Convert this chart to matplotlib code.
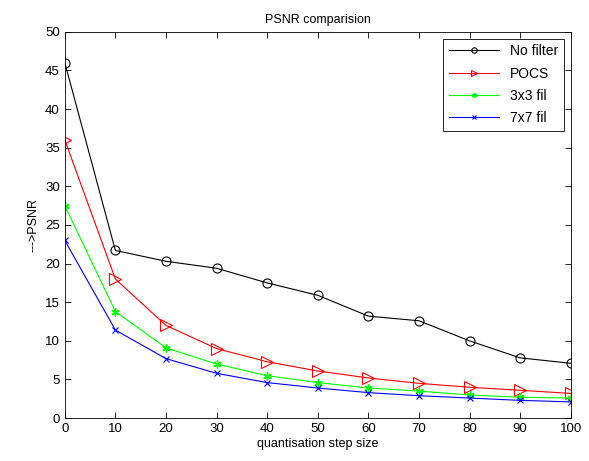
import numpy as np
import matplotlib.pyplot as plt

plt.rcParams['font.family'] = 'Liberation Sans'
plt.rcParams['font.size'] = 9

step = [0, 10, 20, 30, 40, 50, 60, 70, 80, 90, 100]
no_filter = [46, 21.7, 20.3, 19.4, 17.5, 15.9, 13.2, 12.6, 10.0, 7.8, 7.1]
pocs = [36, 18.0, 12.0, 9.0, 7.3, 6.1, 5.2, 4.5, 4.0, 3.6, 3.2]
fil3 = [27.5, 13.8, 9.1, 7.0, 5.5, 4.6, 3.9, 3.5, 3.0, 2.7, 2.6]
fil7 = [23, 11.4, 7.7, 5.8, 4.6, 3.9, 3.3, 2.9, 2.6, 2.3, 2.1]

fig = plt.figure(figsize=(5.89, 4.61), dpi=100)
ax = fig.add_axes([0.110, 0.093, 0.859, 0.838])

ax.plot(step, no_filter, color='black', marker='o', mfc='none', ms=6.5, mew=0.8, lw=0.8, label='No filter')
ax.plot(step, pocs, color='red', marker='>', mfc='none', ms=8, mew=0.8, lw=0.8, label='POCS')
ax.plot(step, fil3, color='#00ff00', marker=(6, 2, 0), ms=6, mew=1.0, lw=0.8, label='3x3 fil')
ax.plot(step, fil7, color='blue', marker='x', ms=4, mew=0.8, lw=0.8, label='7x7 fil')

ax.set_xlim(0, 100)
ax.set_ylim(0, 50)
ax.set_xticks(np.arange(0, 101, 10))
ax.set_yticks(np.arange(0, 51, 5))
ax.tick_params(direction='in', top=True, right=True, length=4, width=0.6, labelsize=9.5)
for s in ax.spines.values():
    s.set_linewidth(0.6)

ax.set_title('PSNR comparision', fontsize=9)
ax.set_xlabel('quantisation step size', labelpad=2)
ax.set_ylabel('--->PSNR')

leg = ax.legend(loc='upper right', fancybox=False, edgecolor='black', framealpha=1,
                handlelength=3.6, borderpad=0.4, labelspacing=0.6, markerscale=0.6,
                fontsize=10, borderaxespad=0.5)
leg.get_frame().set_linewidth(0.6)

fig.savefig('out.png', dpi=100)
